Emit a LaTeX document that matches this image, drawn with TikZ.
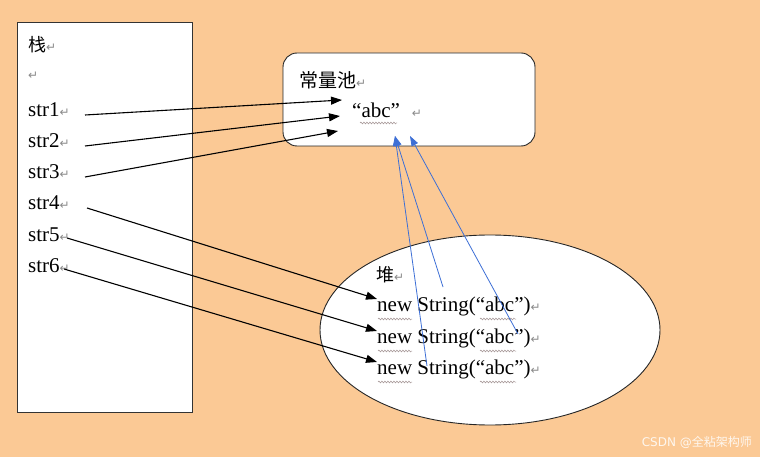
\documentclass[tikz,border=0pt]{standalone}
\usepackage{fontspec}
\setmainfont{Liberation Serif}
\newfontfamily\cjk{Noto Sans CJK SC}
\newfontfamily\symf{DejaVu Sans}
\usetikzlibrary{arrows.meta,decorations.pathmorphing,shapes.geometric}
\definecolor{bg}{HTML}{FBC995}
\definecolor{retc}{HTML}{8A8A8A}
\definecolor{bline}{HTML}{7282B4}
\definecolor{bhead}{HTML}{3D6FD6}
\definecolor{wavy}{HTML}{A09090}
\newcommand{\ret}{{\symf\fontsize{12}{12}\selectfont\color{retc}↵}}
\newcommand{\cj}[1]{{\cjk\fontsize{18}{18}\selectfont #1}}
\tikzset{
  txt/.style={anchor=west,inner sep=2pt,font=\fontsize{21}{21}\selectfont},
  blk/.style={-{Triangle[length=11pt,width=8pt]},line width=1.1pt,black},
  blu/.style={-{Triangle[length=10pt,width=7pt]},line width=0.8pt,draw=bline,color=bhead},
  wv/.style={draw=wavy,line width=0.5pt,decorate,decoration={snake,segment length=3pt,amplitude=0.9pt}},
}
\begin{document}
\begin{tikzpicture}[x=1pt,y=-1pt]
\fill[bg] (0,0) rectangle (760,457);
\useasboundingbox (0,0) rectangle (760,457);
% stack
\node[draw=black!80,fill=white,line width=0.8pt,minimum width=175pt,minimum height=390pt,inner sep=0pt] (stack) at (104.5,217) {};
% pool
\node[draw=black!85,fill=white,line width=0.9pt,rounded corners=14pt,minimum width=252pt,minimum height=93pt,inner sep=0pt] (pool) at (409,99.5) {};
% heap
\node[draw=black!85,fill=white,line width=0.9pt,ellipse,minimum width=340pt,minimum height=190pt,inner sep=0pt] (heap) at (490,330) {};

\node[txt] (zhan) at (26,45) {\cj{栈}\ret};
\node[txt] (blank) at (26,76) {\ret};
\node[txt] (s1) at (26,110) {str1\ret};
\node[txt] (s2) at (26,141) {str2\ret};
\node[txt] (s3) at (26,172) {str3\ret};
\node[txt] (s4) at (26,203) {str4\ret};
\node[txt] (s5) at (26,235) {str5\ret};
\node[txt] (s6) at (26,266) {str6\ret};

\node[txt] (pooltitle) at (297,80) {{\cjk\fontsize{19}{19}\selectfont 常量池}\ret};
\node[txt] (abc) at (350,110) {“abc”\hspace{12pt}\ret};

\node[txt] (dui) at (374,275) {\cj{堆}\ret};
\node[txt] (n1) at (375,306) {new String(“abc”)\ret};
\node[txt] (n2) at (375,338) {new String(“abc”)\ret};
\node[txt] (n3) at (375,369) {new String(“abc”)\ret};

% wavy underlines
\draw[wv] (360,123) -- (397,123);
\foreach \yy in {319,351,382}{
  \draw[wv] (378,\yy) -- (412,\yy);
  \draw[wv] (480,\yy) -- (516,\yy);
}

\coordinate (p1) at (342,100);
\coordinate (p2) at (340,116);
\coordinate (p3) at (338,131);
\coordinate (h1) at (377,299);
\coordinate (h2) at (377,331);
\coordinate (h3) at (377,362);
\coordinate (t1) at (395,136);
\coordinate (t2) at (410,136);
\coordinate (b1) at (427,366);
\coordinate (b2) at (443,287);
\coordinate (b3) at (518,334);

\draw[blk] (85,115) -- (p1);
\draw[blk] (85,146) -- (p2);
\draw[blk] (85,177) -- (p3);
\draw[blk] (87,208) -- (h1);
\draw[blk] (67,238) -- (h2);
\draw[blk] (64,269) -- (h3);

\draw[blu] (b1) -- (t1);
\draw[blu] (b2) -- (t1);
\draw[blu] (b3) -- (t2);

\node[anchor=east,inner sep=0pt,text=white!85!bg,font=\fontsize{12}{12}\selectfont\symf] (wm) at (752,442) {CSDN @{\cjk 全粘架构师}};
\end{tikzpicture}
\end{document}
